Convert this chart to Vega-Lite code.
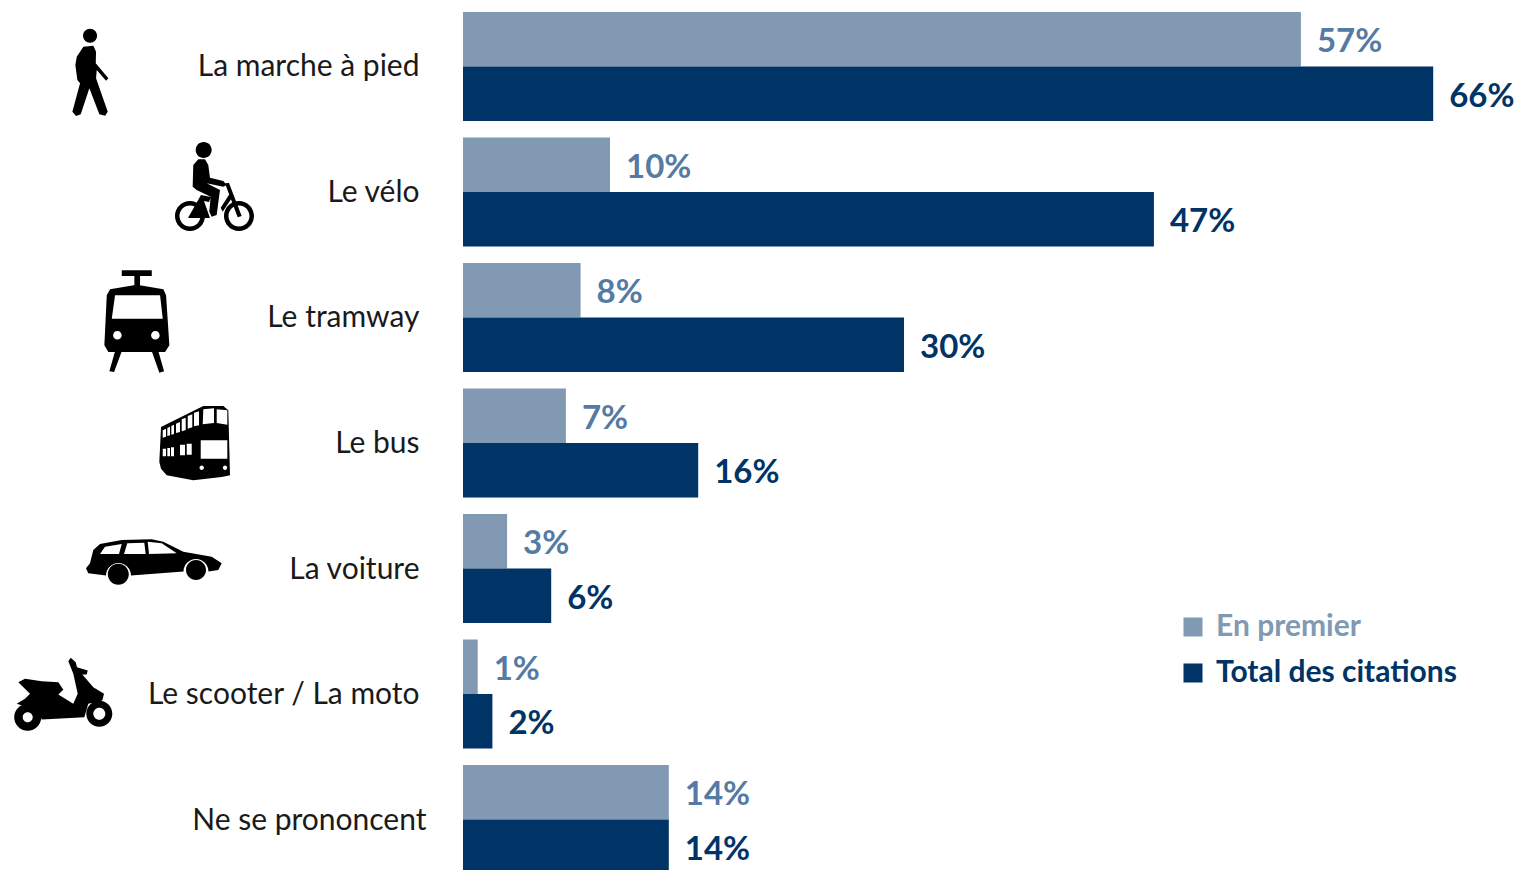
{
"$schema":"https://vega.github.io/schema/vega-lite/v6.json",
"width":1054,"height":870,
"autosize":{"type":"none"},
"padding":{"left":463,"top":0,"right":0,"bottom":0},
"background":"white",
"config":{"view":{"stroke":null}},
"data":{"values":[
{"categorie":"La marche à pied","serie":"En premier","valeur":0.57},
{"categorie":"La marche à pied","serie":"Total des citations","valeur":0.66},
{"categorie":"Le vélo","serie":"En premier","valeur":0.10},
{"categorie":"Le vélo","serie":"Total des citations","valeur":0.47},
{"categorie":"Le tramway","serie":"En premier","valeur":0.08},
{"categorie":"Le tramway","serie":"Total des citations","valeur":0.30},
{"categorie":"Le bus","serie":"En premier","valeur":0.07},
{"categorie":"Le bus","serie":"Total des citations","valeur":0.16},
{"categorie":"La voiture","serie":"En premier","valeur":0.03},
{"categorie":"La voiture","serie":"Total des citations","valeur":0.06},
{"categorie":"Le scooter / La moto","serie":"En premier","valeur":0.01},
{"categorie":"Le scooter / La moto","serie":"Total des citations","valeur":0.02},
{"categorie":"Ne se prononcent","serie":"En premier","valeur":0.14},
{"categorie":"Ne se prononcent","serie":"Total des citations","valeur":0.14}
]},
"encoding":{
"y":{"field":"categorie","type":"nominal","sort":["La marche à pied","Le vélo","Le tramway","Le bus","La voiture","Le scooter / La moto","Ne se prononcent"],
"scale":{"range":[12,874],"paddingInner":0.1315,"paddingOuter":0},
"axis":{"title":null,"domain":false,"ticks":false,"labelPadding":{"expr":"datum.value==='Ne se prononcent'?37:44"},"labelOffset":1,"labelFont":"Lato","labelFontSize":30,"labelColor":"#1a1a1a","labelLimit":400}}
},
"layer":[
{"mark":{"type":"bar","cornerRadius":0},
"encoding":{
"x":{"field":"valeur","type":"quantitative","scale":{"domain":[0,0.717],"range":[0,1054],"nice":false,"zero":false},"axis":null},
"yOffset":{"field":"serie","type":"nominal","sort":["En premier","Total des citations"],"scale":{"paddingInner":0,"paddingOuter":0}},
"color":{"field":"serie","type":"nominal","sort":["En premier","Total des citations"],
"scale":{"domain":["En premier","Total des citations"],"range":["#8199B3","#003366"]},
"legend":{"title":null,"orient":"none","legendX":715,"legendY":609,"symbolType":"square","symbolSize":361,"symbolStrokeWidth":0,"symbolOpacity":1,"labelFont":"Lato","labelFontWeight":"bold","labelFontSize":30,"labelOffset":8,"rowPadding":10,"clipHeight":36,"labelLimit":400,
"labelColor":{"expr":"datum.value==='En premier'?'#8199B3':'#003366'"}}}
}},
{"mark":{"type":"text","align":"left","baseline":"middle","dx":16,"dy":3,"font":"Lato","fontWeight":"bold","fontSize":33},
"encoding":{
"x":{"field":"valeur","type":"quantitative"},
"yOffset":{"field":"serie","type":"nominal","sort":["En premier","Total des citations"]},
"text":{"field":"valeur","type":"quantitative","format":".0%"},
"color":{"condition":{"test":"datum.serie==='En premier'","value":"#557AA3"},"value":"#003366"}
}},
{"transform":[{"filter":"datum.categorie==='La marche à pied'&&datum.serie==='En premier'"}],
"mark":{"type":"point","filled":true,"opacity":1,"color":"#000","size":4,"strokeWidth":0,
"shape":"M-7,-30.8a7,7 0 1,1 14,0a7,7 0 1,1 -14,0ZM-6.7,-19.8L3.3,-20.8L6,-14.8L5.7,-3.2L18.3,11.8L16,14.2L6.7,3.5L6,11.8L17.7,45.2L15,49.2L9.3,47.8L-.7,21.8L-9.3,47.8L-14,49.5L-17.7,45.2L-10,16.8L-12.7,13.5L-14.7,-1.5L-13.3,-9.8Z"},
"encoding":{"x":{"datum":-0.2537,"type":"quantitative"}}},
{"transform":[{"filter":"datum.categorie==='Le vélo'&&datum.serie==='En premier'"}],
"mark":{"type":"point","filled":true,"opacity":1,"color":"#000","size":4,"strokeWidth":0,
"shape":"M-18.3,-42a8,8 0 1,1 16,0a8,8 0 1,1 -16,0ZM-20.7,-27L-15.7,-32.7L-9,-32.7L-5.7,-27L-4,-14.3L9.3,-11L12.7,-7L9.3,-5.3L-7.3,-8.7L6,-2L2.7,23L-2.3,24.7L-4.7,19.7L-3.3,4.7L-17.3,-2L-21.3,-5.3ZM-39,24a15,15 0 1,1 30,0a15,15 0 1,1 -30,0ZM-34.5,24a10.5,10.5 0 1,0 21,0a10.5,10.5 0 1,0 -21,0ZM10,24a15,15 0 1,1 30,0a15,15 0 1,1 -30,0ZM14.5,24a10.5,10.5 0 1,0 21,0a10.5,10.5 0 1,0 -21,0ZM11,-8.7L15,-9L27.7,24L23.7,25.3ZM6.7,15.7L16,1.3L18.7,4.7L8.7,19.7ZM-26,26L-13,3L-3,5L-5,10L-10,9L-4,26Z"},
"encoding":{"x":{"datum":-0.1694,"type":"quantitative"}}},
{"transform":[{"filter":"datum.categorie==='Le tramway'&&datum.serie==='En premier'"}],
"mark":{"type":"point","filled":true,"opacity":1,"color":"#000","size":4,"strokeWidth":0,
"shape":"M-14.3,-47.2L15.7,-47.2L15.7,-41.5L4,-41.5L4,-32L.7,-32.8L-1.7,-32L-1.7,-41.5L-14.3,-41.5ZM-26,-28.2L.7,-32.8L27.3,-28.2L30,-22.2L33.3,27.8L29,34.5L-27.7,34.5L-31.7,27.8L-29.3,-22.2ZM-21,-22.2L-24.3,1.2L26.7,1.2L24,-22.2ZM-23,17.8a4.3,4.3 0 1,0 8.6,0a4.3,4.3 0 1,0 -8.6,0ZM15,17.8a4.3,4.3 0 1,0 8.6,0a4.3,4.3 0 1,0 -8.6,0ZM-21,33.8L-14.3,33.8L-22,54.5L-26.7,53.8ZM15.7,33.8L22.3,33.8L28,53.8L23.3,55.2Z"},
"encoding":{"x":{"datum":-0.2224,"type":"quantitative"}}},
{"transform":[{"filter":"datum.categorie==='Le bus'&&datum.serie==='En premier'"}],
"mark":{"type":"point","filled":true,"opacity":1,"color":"#000","size":4,"strokeWidth":0,
"shape":"M-34,-16L8.3,-37L28.3,-37L33.3,-32.7L35,32.3L26.7,34L-1.7,37.3L-28.3,32.3L-34,25.7L-35.7,19ZM8.3,-33.7L7.7,-18.7L19,-20L19,-34.7ZM21.7,-33.7L21.7,-20L32.3,-18.3L32.3,-32.7ZM-32.3,-12.7L-32.3,-5.3L-29,-6.3L-29,-14.3ZM-27.7,-15L-27.7,-7L-25,-7.7L-25,-16.3ZM-23.7,-17L-23.7,-8.3L-21,-9L-21,-18.3ZM-19,-19.3L-19,-10L-15,-11L-15,-21ZM-13.3,-23.7L-13.3,-11.7L-9.3,-13L-9.3,-25.3ZM-7.3,-27L-7.3,-14.3L-2.7,-15.7L-2.7,-28.7ZM-1,-30.3L-1,-16.7L4,-17.7L4,-31.7ZM5.7,-2.7L5.7,15.7L32.3,15.7L32.3,-2.7ZM-32.3,5.7L-32.3,13.3L-29,13.3L-29,5.7ZM-27.7,5L-27.7,13.3L-25,13.3L-25,5ZM-24,4.3L-24,13.3L-21,13.3L-21,4.3ZM-15,1.7L-15,12.3L-10,12.3L-10,1.7ZM-8.3,.7L-8.3,11.7L-3.3,11.7L-3.3,.7ZM4.5,24.7a2.2,2.2 0 1,0 4.4,0a2.2,2.2 0 1,0 -4.4,0ZM27.8,24.7a2.2,2.2 0 1,0 4.4,0a2.2,2.2 0 1,0 -4.4,0Z"},
"encoding":{"x":{"datum":-0.1823,"type":"quantitative"}}},
{"transform":[{"filter":"datum.categorie==='La voiture'&&datum.serie==='En premier'"}],
"mark":{"type":"point","filled":true,"opacity":1,"color":"#000","size":4,"strokeWidth":0,
"shape":"M-68,-.2L-64,-5.2L-60.7,-18.5L-54,-24.5L-32.3,-28.5L-2.3,-29.2L9.3,-26.8L29.3,-16.8L57.7,-11.8L67.7,-5.2L64.3,1.5L54.5,3A12.5,12.5 0 0 0 29.5,3L-23,7A12.5,12.5 0 0 0 -48,7L-65.7,4.8ZM-54,-14.5L-35,-14.5L-32.3,-24.5L-49,-21.8ZM-30,-14.5L-8.3,-14.5L-9.7,-25.8L-26.7,-25.2ZM-5,-14.5L22.7,-15.2L7.7,-25.2L-6.3,-26.8ZM32,1.5a10,10 0 1,1 20,0a10,10 0 1,1 -20,0ZM-46.2,5.8a10.5,10.5 0 1,1 21,0a10.5,10.5 0 1,1 -21,0Z"},
"encoding":{"x":{"datum":-0.2102,"type":"quantitative"}}},
{"transform":[{"filter":"datum.categorie==='Le scooter / La moto'&&datum.serie==='En premier'"}],
"mark":{"type":"point","filled":true,"opacity":1,"color":"#000","size":4,"strokeWidth":0,
"shape":"M-44.7,-11.8L-38,-15.2L-21.3,-12.8L-4.7,-11.8L.3,-4.2L-4.7,.5L10.3,9.8L14.7,-.2L10.3,-20.2L5.3,-32.8L7.7,-36.2L12.7,-31.8L14,-26.8L24.7,-23.5L23.7,-19.5L19.3,-19.5L30.3,-6.8L41,-.2L39.3,6.5L25.3,9.8L21.3,23.2L-21.3,25.5L-24.7,16.5L-46.3,9.8L-38,4.8L-33,-.2ZM-48.8,23.2a13.5,13.5 0 1,1 27,0a13.5,13.5 0 1,1 -27,0ZM-40.3,23.2a5,5 0 1,0 10,0a5,5 0 1,0 -10,0ZM23.3,19.8a13,13 0 1,1 26,0a13,13 0 1,1 -26,0ZM30.3,19.8a6,6 0 1,0 12,0a6,6 0 1,0 -12,0Z"},
"encoding":{"x":{"datum":-0.2721,"type":"quantitative"}}}
]
}
